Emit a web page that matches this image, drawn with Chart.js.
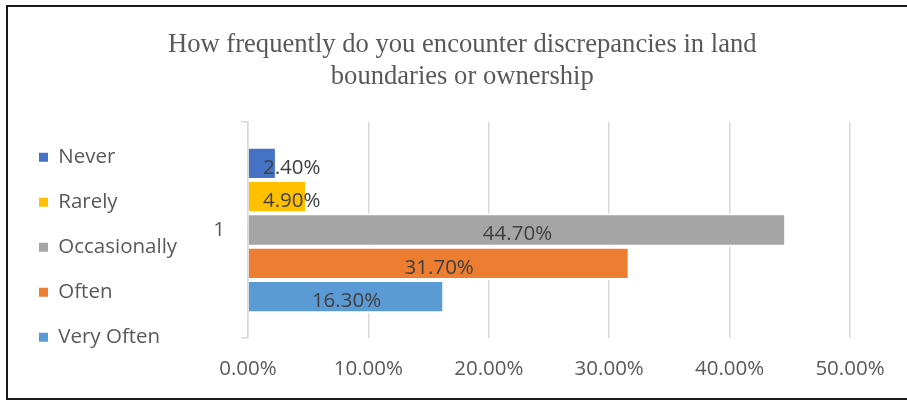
<!DOCTYPE html>
<html>
<head>
<meta charset="utf-8">
<title>Land boundary discrepancies</title>
<script src="https://cdn.jsdelivr.net/npm/chart.js@4/dist/chart.umd.min.js"></script>
<style>
  html, body { margin: 0; padding: 0; background: #ffffff; overflow: hidden; }
  #wrap { position: relative; width: 907px; height: 401px; }
  #frame {
    position: absolute; left: 6px; top: 5px; width: 920px; height: 395px;
    box-sizing: border-box; border: 2px solid #1a1a1a; pointer-events: none;
  }
  canvas { position: absolute; left: 0; top: 0; }
</style>
</head>
<body>
<div id="wrap">
  <canvas id="chart" width="907" height="401"></canvas>
  <div id="frame"></div>
</div>
<script>
// Survey answers: share of respondents per frequency level
const categories = ['1'];
const seriesNames = ['Never', 'Rarely', 'Occasionally', 'Often', 'Very Often'];
const neverValues = [2.4];
const rarelyValues = [4.9];
const occasionallyValues = [44.7];
const oftenValues = [31.7];
const veryOftenValues = [16.3];
const seriesColors = ['#4472C4', '#FFC000', '#A5A5A5', '#ED7D31', '#5B9BD5'];
const titleLines = ['How frequently do you encounter discrepancies in land', 'boundaries or ownership'];

const seriesValues = [neverValues, rarelyValues, occasionallyValues, oftenValues, veryOftenValues];

const LABEL_FONT = "'Open Sans', 'Noto Sans', sans-serif";
const TEXT_GREY = '#595959';
const GRID_GREY = '#d9d9d9';
const PAD_LEFT = 14.5;
const PLOT_LEFT = 248;
const PLOT_RIGHT_GAP = 57;

const pct = v => v.toFixed(2) + '%';

// Percent labels on each bar; short bars keep their label clear of the axis
const barValueLabels = {
  id: 'barValueLabels',
  afterDatasetsDraw(chart) {
    const { ctx, chartArea } = chart;
    ctx.save();
    ctx.font = "20.5px " + LABEL_FONT;
    ctx.fillStyle = '#404040';
    ctx.textAlign = 'center';
    ctx.textBaseline = 'middle';
    chart.data.datasets.forEach((ds, i) => {
      const meta = chart.getDatasetMeta(i);
      meta.data.forEach((bar, j) => {
        const text = pct(ds.data[j]);
        const w = ctx.measureText(text).width;
        const mid = (bar.x + bar.base) / 2;
        const x = Math.max(mid, chartArea.left + 15 + w / 2);
        ctx.fillText(text, x, bar.y + 4.5);
      });
    });
    ctx.restore();
  }
};

new Chart(document.getElementById('chart'), {
  type: 'bar',
  data: {
    labels: categories,
    datasets: seriesNames.map((name, i) => ({
      label: name,
      data: seriesValues[i],
      backgroundColor: seriesColors[i],
      borderColor: '#ffffff',
      borderWidth: 2,
      categoryPercentage: 0.771,
      barPercentage: 1.0
    }))
  },
  options: {
    indexAxis: 'y',
    responsive: false,
    animation: false,
    events: [],
    layout: { padding: { top: 0, left: PAD_LEFT, right: -3, bottom: 18.7 } },
    scales: {
      x: {
        type: 'linear',
        min: 0,
        max: 50,
        ticks: {
          stepSize: 10,
          padding: 1,
          color: TEXT_GREY,
          font: { family: LABEL_FONT, size: 20.5 },
          callback: v => pct(v)
        },
        grid: { color: GRID_GREY, lineWidth: 1.5, drawTicks: true, tickLength: 17.7, tickColor: 'rgba(0,0,0,0)' },
        border: { display: false },
        afterFit(scale) {
          // keep clear space to the right of the plot
          scale.paddingRight = PLOT_RIGHT_GAP;
        }
      },
      y: {
        type: 'category',
        ticks: {
          padding: 16,
          color: TEXT_GREY,
          font: { family: LABEL_FONT, size: 20.5 }
        },
        grid: { drawOnChartArea: false, drawTicks: true, tickLength: 7, color: GRID_GREY, lineWidth: 1.5 },
        border: { display: true, color: GRID_GREY, width: 1.5 },
        afterFit(scale) {
          const legendWidth = scale.chart.legend ? scale.chart.legend.width : 0;
          scale.width = PLOT_LEFT - PAD_LEFT - legendWidth;
        }
      }
    },
    plugins: {
      title: {
        display: true,
        text: titleLines,
        color: TEXT_GREY,
        font: { family: "'Liberation Serif', 'Times New Roman', serif", size: 26.6, weight: 'normal', lineHeight: '32px' },
        padding: { top: 29, bottom: 29 }
      },
      legend: {
        display: true,
        position: 'left',
        align: 'start',
        // blank heading used as a spacer above the legend entries
        title: { display: true, text: ' ', padding: 0, font: { size: 10, lineHeight: '122.5px' } },
        labels: {
          boxWidth: 9,
          boxHeight: 9,
          padding: 24.5,
          color: TEXT_GREY,
          font: { family: LABEL_FONT, size: 20.5 },
          generateLabels(chart) {
            return Chart.defaults.plugins.legend.labels.generateLabels(chart)
              .map(item => Object.assign(item, { lineWidth: 0, strokeStyle: 'rgba(0,0,0,0)' }));
          }
        }
      },
      tooltip: { enabled: false }
    }
  },
  plugins: [barValueLabels]
});
</script>
</body>
</html>
